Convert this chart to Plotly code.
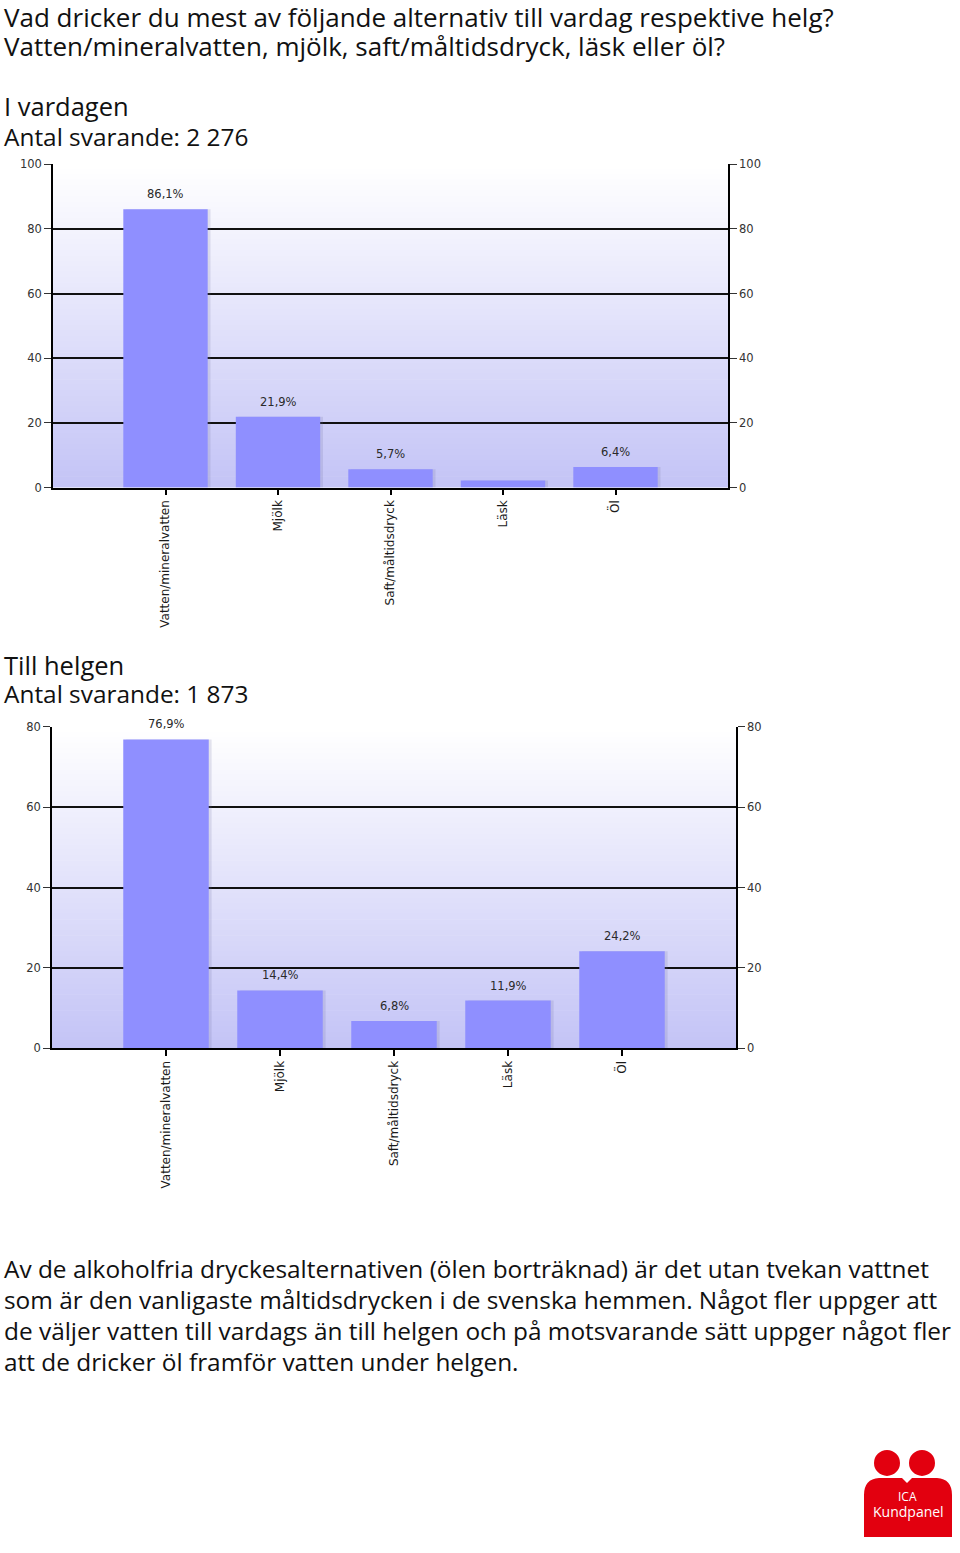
import plotly.graph_objects as go

# ---------------- data ----------------
categories = ["Vatten/mineralvatten", "Mjölk", "Saft/måltidsdryck", "Läsk", "Öl"]
weekday_values = [86.1, 21.9, 5.7, 2.2, 6.4]
weekday_labels = ["86,1%", "21,9%", "5,7%", "", "6,4%"]
weekend_values = [76.9, 14.4, 6.8, 11.9, 24.2]
weekend_labels = ["76,9%", "14,4%", "6,8%", "11,9%", "24,2%"]
weekday_ticks = [0, 20, 40, 60, 80, 100]
weekend_ticks = [0, 20, 40, 60, 80]

title_lines = [
    "Vad dricker du mest av följande alternativ till vardag respektive helg?",
    "Vatten/mineralvatten, mjölk, saft/måltidsdryck, läsk eller öl?",
]
weekday_head = ["I vardagen", "Antal svarande: 2 276"]
weekend_head = ["Till helgen", "Antal svarande: 1 873"]
paragraph = [
    "Av de alkoholfria dryckesalternativen (ölen borträknad) är det utan tvekan vattnet",
    "som är den vanligaste måltidsdrycken i de svenska hemmen. Något fler uppger att",
    "de väljer vatten till vardags än till helgen och på motsvarande sätt uppger något fler",
    "att de dricker öl framför vatten under helgen.",
]

W, H = 960, 1553
def px(x): return x / W
def py(y): return 1 - (y - 8) / 1537.0

BAR = "#8F8FFF"
TXT_FONT = "Open Sans"
CH_FONT = "DejaVu Sans"

fig = go.Figure()

def add_chart(values, labels, xref, yref, yref2):
    fig.add_trace(go.Bar(x=categories, y=values, width=0.75, offset=-0.375 + 0.025,
                         marker=dict(color="rgba(110,110,160,0.18)", line=dict(width=0)),
                         xaxis=xref, yaxis=yref, hoverinfo="skip", showlegend=False))
    fig.add_trace(go.Bar(x=categories, y=values, width=0.75, offset=-0.375,
                         marker=dict(color=BAR, line=dict(width=0)),
                         xaxis=xref, yaxis=yref, showlegend=False))
    fig.add_trace(go.Scatter(x=categories[:1], y=[None], xaxis=xref, yaxis=yref2,
                             mode="markers", showlegend=False, hoverinfo="skip"))
    for c, v, t in zip(categories, values, labels):
        if t:
            fig.add_annotation(x=c, y=v, xref=xref, yref=yref, text=t, showarrow=False,
                               xanchor="center", yanchor="bottom", yshift=6,
                               font=dict(family=CH_FONT, size=11.5, color="#2a2a2a"))
    n = 60
    top = (255, 255, 255)
    bot = (196, 196, 246)
    for i in range(n):
        f = (i + 0.5) / n
        col = tuple(round(top[k] + (bot[k] - top[k]) * f) for k in range(3))
        fig.add_shape(type="rect", xref=xref + " domain", yref=yref + " domain",
                      x0=0, x1=1, y0=1 - (i + 1) / n, y1=1 - i / n + 0.002,
                      fillcolor="rgb(%d,%d,%d)" % col, line=dict(width=0), layer="below")

add_chart(weekday_values, weekday_labels, "x", "y", "y2")
add_chart(weekend_values, weekend_labels, "x2", "y3", "y4")

tickfont = dict(family=CH_FONT, size=11.5, color="#333333")
xtickfont = dict(family=CH_FONT, size=12, color="#1a1a1a")

def xaxis_cfg(dom, anchor):
    return dict(domain=dom, anchor=anchor, type="category", range=[-1, 5],
                showline=True, linecolor="#000000", linewidth=1.5,
                ticks="outside", ticklen=6, tickcolor="#000000", tickwidth=1.5,
                tickangle=-90, tickfont=xtickfont, showgrid=False, zeroline=False,
                fixedrange=True)

def yaxis_cfg(dom, anchor, ymax, ticks, side="left", overlay=None, grid=True):
    d = dict(domain=dom, anchor=anchor, range=[0, ymax], tickvals=ticks,
             showline=True, linecolor="#000000", linewidth=1.5,
             ticks="outside", ticklen=7, tickcolor="#333333", tickwidth=1,
             tickfont=tickfont, showgrid=grid, gridcolor="#111111", gridwidth=1.6,
             zeroline=False, side=side, fixedrange=True)
    if overlay:
        d["overlaying"] = overlay
    return d

x1d = [px(53), px(728)]
y1d = [py(488), py(165)]
x2d = [px(52), px(736)]
y2d = [py(1048), py(727)]

fig.update_layout(
    xaxis=xaxis_cfg(x1d, "y"),
    yaxis=yaxis_cfg(y1d, "x", 100, weekday_ticks),
    yaxis2=yaxis_cfg(y1d, "x", 100, weekday_ticks, side="right", overlay="y", grid=False),
    xaxis2=xaxis_cfg(x2d, "y3"),
    yaxis3=yaxis_cfg(y2d, "x2", 80, weekend_ticks),
    yaxis4=yaxis_cfg(y2d, "x2", 80, weekend_ticks, side="right", overlay="y3", grid=False),
)

def add_text(t, y, size):
    fig.add_annotation(x=px(2), y=py(y), xref="paper", yref="paper", text=t, showarrow=False,
                       xanchor="left", yanchor="middle",
                       font=dict(family=TXT_FONT, size=size, color="#111111"))

add_text(title_lines[0], 17.5, 26)
add_text(title_lines[1], 47, 26)
add_text(weekday_head[0], 107, 25.5)
add_text(weekday_head[1], 137, 24.4)
add_text(weekend_head[0], 665, 25.5)
add_text(weekend_head[1], 694, 24.4)
for i, line in enumerate(paragraph):
    add_text(line, 1268 + 31 * i, 24.4)

# ICA Kundpanel logo
RED = "#E2000F"
def circ(cx, cy, r):
    fig.add_shape(type="circle", xref="paper", yref="paper",
                  x0=px(cx - r), x1=px(cx + r), y0=py(cy + r), y1=py(cy - r),
                  fillcolor=RED, line=dict(width=0), layer="above")
circ(887, 1462, 13)
circ(922, 1462, 13)
pts = [("M", 864, 1536), ("L", 864, 1494), ("Q", 864, 1478, 879, 1477), ("L", 902, 1477),
       ("L", 907, 1482), ("L", 912, 1477), ("L", 937, 1477), ("Q", 952, 1478, 952, 1494),
       ("L", 952, 1536)]
path = ""
for p in pts:
    coords = p[1:]
    s = " ".join("%f,%f" % (px(coords[k]), py(coords[k + 1])) for k in range(0, len(coords), 2))
    path += p[0] + " " + s + " "
path += "Z"
fig.add_shape(type="path", xref="paper", yref="paper", path=path,
              fillcolor=RED, line=dict(width=0), layer="above")
fig.add_annotation(x=px(907), y=py(1496), xref="paper", yref="paper", text="ICA",
                   showarrow=False, xanchor="center", yanchor="middle",
                   font=dict(family="Open Sans", size=12, color="white"))
fig.add_annotation(x=px(908), y=py(1511), xref="paper", yref="paper", text="Kundpanel",
                   showarrow=False, xanchor="center", yanchor="middle",
                   font=dict(family="Open Sans", size=14, color="white"))

fig.update_layout(
    width=W, height=H, margin=dict(l=0, r=0, t=0, b=0),
    paper_bgcolor="white", plot_bgcolor="rgba(0,0,0,0)",
    barmode="overlay", showlegend=False, bargap=0.25,
)

fig.write_html("out.html")
